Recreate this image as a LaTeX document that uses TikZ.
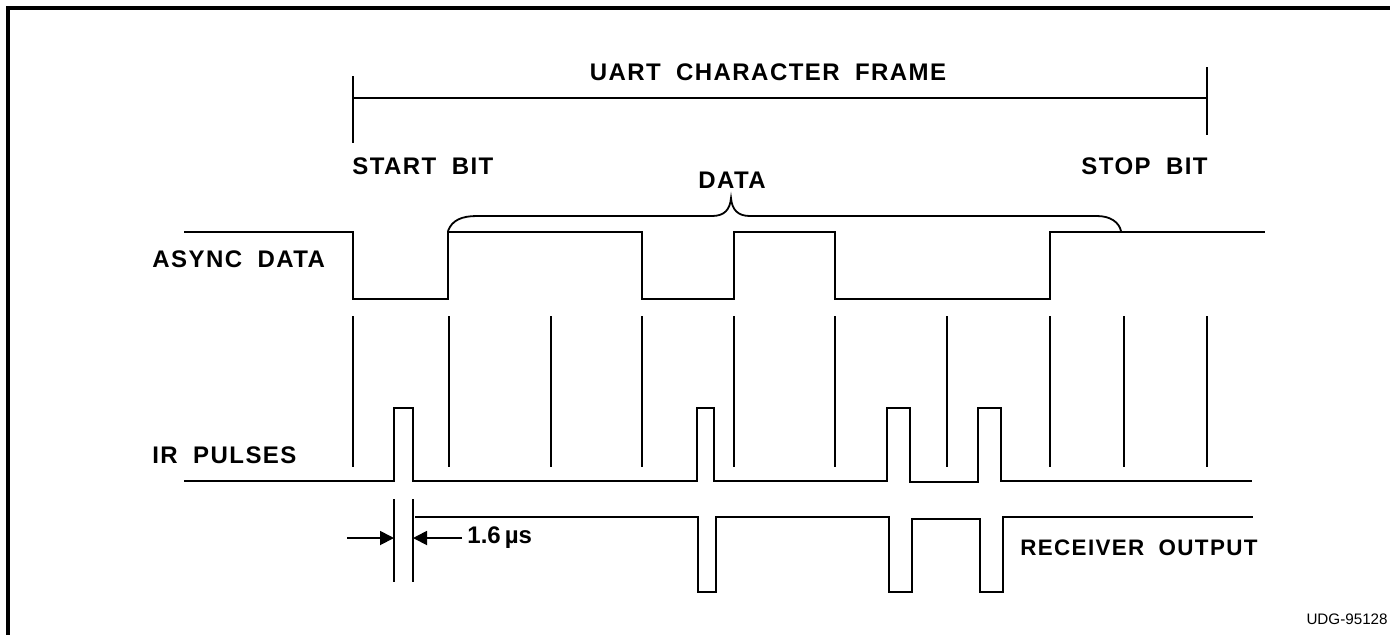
\documentclass[tikz,border=0pt]{standalone}
\usepackage{fontspec}
\setmainfont{Liberation Sans}
\newfontfamily\lblfont[LetterSpace=6,WordSpace=1.9]{Liberation Sans Bold}
\usepackage{tikz}
\usetikzlibrary{calc,arrows.meta,positioning}
\definecolor{inkc}{HTML}{000000}
\tikzset{
  wave/.style={inkc,line width=0.9pt,line join=miter},
  tick/.style={inkc,line width=0.9pt},
  frm/.style={inkc,line width=2pt},
  dimar/.style={-{Triangle[length=7pt,width=7pt]},inkc,line width=0.9pt},
  lbl/.style={font=\lblfont\fontsize{12}{14}\selectfont,inner sep=0pt,text=inkc},
  tag/.style={font=\fontsize{7.6}{9}\selectfont,inner sep=0pt,text=inkc}
}

\begin{document}
\begin{tikzpicture}[x=0.5pt,y=-0.5pt]
\useasboundingbox (0,0) rectangle (1390,634);
\draw[frm] (8,640) -- (8,8) -- (1396,8);
% frame bracket
\coordinate (FL) at (353,98); \coordinate (FR) at (1207,98);
\draw[tick] (FL) -- (FR);
\draw[tick] ($(FL)+(0,-22)$) -- ($(FL)+(0,45)$);
\draw[tick] ($(FR)+(0,-31)$) -- ($(FR)+(0,37)$);
\node[lbl] (uart) at (768,72) {UART CHARACTER FRAME};
\node[lbl,anchor=west] (start) at (352,166) {START BIT};
\node[lbl,anchor=east] (stop) at (1208,166) {STOP BIT};
\node[lbl] (data) at (732,180) {DATA};
% data brace
\draw[tick] (448,231) .. controls (452,220) and (462,216) .. (477,216)
  -- (712,216) .. controls (724,216) and (730,210) .. (731,198)
  .. controls (732,210) and (738,216) .. (750,216)
  -- (1097,216) .. controls (1110,216) and (1119,222) .. (1121,231);
% async data
\node[lbl,anchor=west] (async) at (152,259) {ASYNC DATA};
\draw[wave] (184,232) -- (353,232) -- (353,299) -- (448,299) -- (448,232)
  -- (642,232) -- (642,299) -- (734,299) -- (734,232) -- (835,232)
  -- (835,299) -- (1050,299) -- (1050,232) -- (1265,232);
% bit boundaries
\foreach \bx in {353,449,551,642,734,835,947,1050,1124,1207}
  \draw[tick] (\bx,316) -- (\bx,467);
% ir pulses
\node[lbl,anchor=west] (ir) at (152,455) {IR PULSES};
\draw[wave] (184,481) -- (394,481) -- (394,408) -- (413,408) -- (413,481)
  -- (697,481) -- (697,408) -- (714,408) -- (714,481)
  -- (887,481) -- (887,408) -- (910,408) -- (910,482)
  -- (978,482) -- (978,408) -- (1001,408) -- (1001,481) -- (1252,481);
% receiver output
\draw[wave] (415,517) -- (698,517) -- (698,592) -- (716,592) -- (716,517)
  -- (889,517) -- (889,592) -- (912,592) -- (912,519)
  -- (980,519) -- (980,592) -- (1003,592) -- (1003,517) -- (1253,517);
\node[lbl,anchor=west,font=\lblfont\fontsize{11.2}{14}\selectfont] (rx) at (1020,548) {RECEIVER OUTPUT};
% pulse width
\coordinate (WL) at (394,538); \coordinate (WR) at (413,538);
\draw[tick] (394,499) -- (394,582) (413,499) -- (413,582);
\draw[dimar] ($(WL)+(-47,0)$) -- (WL);
\draw[dimar] ($(WR)+(49,0)$) -- (WR);
\node[lbl,anchor=west,font=\bfseries\fontsize{12}{14}\selectfont] (pw) at (467,538) {1.6\,µs};
\node[tag,anchor=east] (udg) at (1388,619) {UDG-95128};
\end{tikzpicture}
\end{document}
